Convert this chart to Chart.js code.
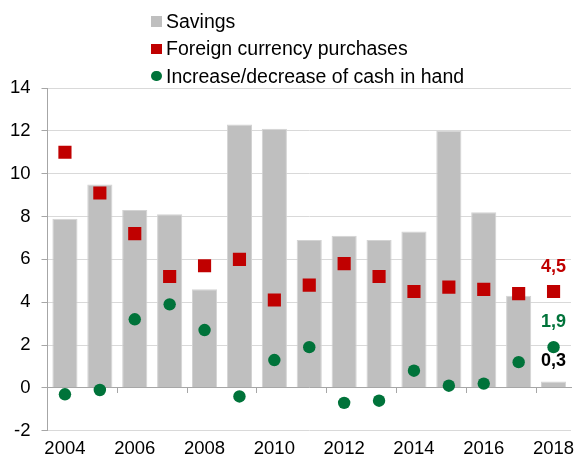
<!DOCTYPE html>
<html><head><meta charset="utf-8">
<script src="https://cdn.jsdelivr.net/npm/chart.js@4.4.0/dist/chart.umd.min.js"></script>
<style>
html,body{margin:0;padding:0;background:#fff;}
#wrap{position:relative;width:577px;height:461px;overflow:hidden;}
#c{position:absolute;left:0;top:0;}
#legend{position:absolute;left:151px;top:8px;font-family:"Liberation Sans",Arial,sans-serif;font-size:19.5px;color:#000;}
.item{height:27.3px;display:flex;align-items:center;white-space:nowrap;}
.mk{width:10.5px;height:10.5px;margin-right:4.5px;flex:none;}
</style>
</head><body>
<div id="wrap">
<canvas id="c" width="577" height="461"></canvas>
<div id="legend"></div>
</div>
<script>
const years = ['2004','2005','2006','2007','2008','2009','2010','2011','2012','2013','2014','2015','2016','2017','2018'];
const savings = [7.9, 9.5, 8.3, 8.1, 4.6, 12.3, 12.1, 6.9, 7.1, 6.9, 7.3, 12.0, 8.2, 4.3, 0.3];
const fxPurchases = [11.0, 9.1, 7.2, 5.2, 5.7, 6.0, 4.1, 4.8, 5.8, 5.2, 4.5, 4.7, 4.6, 4.4, 4.5];
const cashInHand = [-0.3, -0.1, 3.2, 3.9, 2.7, -0.4, 1.3, 1.9, -0.7, -0.6, 0.8, 0.1, 0.2, 1.2, 1.9];
const seriesNames = ['Savings', 'Foreign currency purchases', 'Increase/decrease of cash in hand'];
const yMin = -2, yMax = 14, yStep = 2;

const GRAY = '#bfbfbf', RED = '#c00000', GREEN = '#00733a';
const FONT = '"Liberation Sans", Arial, sans-serif';

// HTML legend
const legendEl = document.getElementById('legend');
[[seriesNames[0], GRAY, '0'], [seriesNames[1], RED, '0'], [seriesNames[2], GREEN, '50%']].forEach(([t, c, r]) => {
  const d = document.createElement('div'); d.className = 'item';
  const m = document.createElement('span'); m.className = 'mk'; m.style.background = c; m.style.borderRadius = r;
  const s = document.createElement('span'); s.textContent = t;
  d.appendChild(m); d.appendChild(s); legendEl.appendChild(d);
});

const endLabels = {
  id: 'endLabels',
  afterDatasetsDraw(chart) {
    const ctx = chart.ctx;
    const specs = [{ds: 1, color: RED, dy: -24}, {ds: 2, color: GREEN, dy: -25}, {ds: 0, color: '#000', dy: -20}];
    ctx.save();
    ctx.font = 'bold 18px ' + FONT;
    ctx.textAlign = 'center';
    ctx.textBaseline = 'middle';
    specs.forEach(s => {
      const meta = chart.getDatasetMeta(s.ds);
      const i = meta.data.length - 1;
      const el = meta.data[i];
      const v = chart.data.datasets[s.ds].data[i];
      ctx.fillStyle = s.color;
      ctx.fillText(v.toFixed(1).replace('.', ','), el.x, el.y + s.dy);
    });
    ctx.restore();
  }
};

new Chart(document.getElementById('c'), {
  type: 'bar',
  data: {
    labels: years,
    datasets: [
      {label: seriesNames[0], data: savings, backgroundColor: GRAY, borderColor: '#d3d3d3', borderWidth: 1,
       barPercentage: 0.72, categoryPercentage: 1.0, order: 3},
      {type: 'line', label: seriesNames[1], data: fxPurchases, showLine: false, pointStyle: 'rect',
       pointRadius: 9.3, pointHoverRadius: 9.3, pointBackgroundColor: RED, pointBorderWidth: 0, borderColor: RED, order: 2},
      {type: 'line', label: seriesNames[2], data: cashInHand, showLine: false, pointStyle: 'circle',
       pointRadius: 6.2, pointHoverRadius: 6.2, pointBackgroundColor: GREEN, pointBorderWidth: 0, borderColor: GREEN, order: 1}
    ]
  },
  options: {
    responsive: false,
    animation: false,
    events: [],
    layout: {autoPadding: false, padding: {top: 88, right: 6, left: 0, bottom: 0}},
    plugins: {legend: {display: false}, tooltip: {enabled: false}},
    scales: {
      x: {
        type: 'category', offset: true,
        grid: {display: true, drawOnChartArea: false, drawTicks: true, tickLength: 7, color: 'rgba(0,0,0,0)'},
        border: {display: false},
        ticks: {autoSkip: false, maxRotation: 0, color: '#000', font: {family: FONT, size: 18.5}, padding: 0,
                callback: (v, i) => (i % 2 === 0 ? years[i] : '')},
        afterFit: s => { s.height = 30.3; s.paddingLeft = 0; s.paddingRight = 0; }
      },
      x2: {
        type: 'category', axis: 'x', position: {y: 0}, offset: true,
        ticks: {display: false},
        grid: {drawOnChartArea: false, drawTicks: true, tickLength: 5, offset: true,
               color: ctx => (ctx.index > 0 && ctx.index % 2 === 0 ? '#a6a6a6' : 'rgba(0,0,0,0)')},
        border: {display: true, color: '#a6a6a6', width: 1},
        afterFit: s => { s.height = 0; s.paddingLeft = 0; s.paddingRight = 0; }
      },
      y: {
        min: yMin, max: yMax,
        ticks: {stepSize: yStep, color: '#000', font: {family: FONT, size: 18.5}, padding: 11},
        grid: {color: '#d9d9d9', tickColor: '#a6a6a6', tickLength: 6},
        border: {color: '#a6a6a6'},
        afterFit: s => { s.width = 47.5; }
      }
    }
  },
  plugins: [endLabels]
});
</script>
</body></html>
